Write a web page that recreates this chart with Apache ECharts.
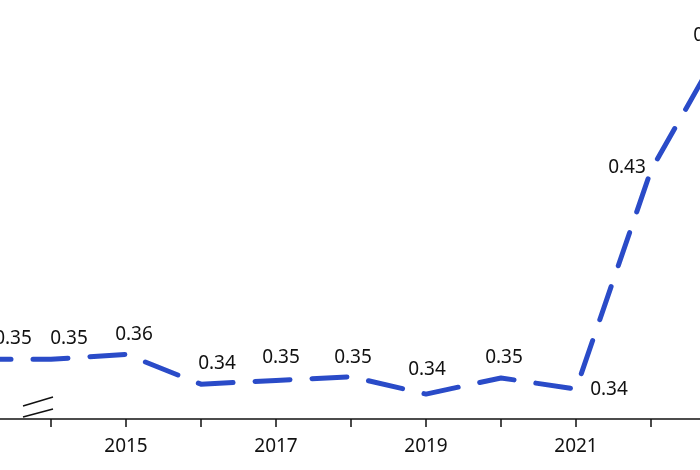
<!DOCTYPE html>
<html>
<head>
<meta charset="utf-8">
<script src="https://cdn.jsdelivr.net/npm/echarts@6/dist/echarts.min.js"></script>
<style>
html,body{margin:0;padding:0;background:#fff;}
#chart{width:700px;height:470px;}
</style>
</head>
<body>
<div id="chart"></div>
<script>
// Data
const years = ['2010','2014','2015','2016','2017','2018','2019','2020','2021','2022','2023'];
const values = [0.354, 0.354, 0.356, 0.344, 0.3455, 0.347, 0.340, 0.3465, 0.342, 0.430, 0.483];
// label placement (style only)
const labelOffsets = [[37,-21],[18,-21],[8,-20],[16,-21],[5,-23],[2,-19],[1,-25],[3,-20],[33,0],[-24,-3],[-14,-3]];

const FONT = 'Noto Sans';
const chart = echarts.init(document.getElementById('chart'), null, {renderer:'canvas'});
const lineColor = '#2a4bc8';

const seriesData = values.map((v,i)=>({
  value: v,
  label: {offset: labelOffsets[i]}
}));

chart.setOption({
  animation: false,
  backgroundColor: '#fff',
  grid: {left: -24, right: -26, top: -4, bottom: 51, containLabel: false, outerBoundsMode: 'none'},
  xAxis: {
    type: 'category',
    data: years,
    boundaryGap: false,
    axisLine: {show: true, lineStyle: {color: '#111', width: 1.5}},
    axisTick: {show: true, length: 8, lineStyle: {color: '#111', width: 1.5}, alignWithLabel: true, interval: 0},
    axisLabel: {interval: 1, margin: 18, color: '#111', fontFamily: FONT, fontSize: 19},
    splitLine: {show: false}
  },
  yAxis: {
    type: 'value',
    min: 0.33,
    max: 0.50,
    show: false
  },
  series: [{
    type: 'line',
    data: seriesData,
    symbol: 'circle',
    symbolSize: 1,
    showSymbol: true,
    itemStyle: {color: 'rgba(0,0,0,0)', borderWidth: 0},
    lineStyle: {color: lineColor, width: 5, type: [35, 22], cap: 'round', join: 'round'},
    label: {
      show: true,
      position: 'inside',
      color: '#111',
      fontFamily: FONT,
      fontSize: 19,
      formatter: p => p.value.toFixed(2)
    },
    emphasis: {disabled: true}
  }]
});

// axis-break marks, positioned from the axis scales
const x1 = chart.convertToPixel({xAxisIndex: 0}, years[1]);
const ay = chart.convertToPixel({yAxisIndex: 0}, 0.33);
chart.setOption({
  graphic: [
    {type: 'line', shape: {x1: x1 - 28, y1: ay - 13, x2: x1 + 2, y2: ay - 22}, style: {stroke: '#111', lineWidth: 1.5}},
    {type: 'line', shape: {x1: x1 - 28, y1: ay - 2, x2: x1 + 2, y2: ay - 10}, style: {stroke: '#111', lineWidth: 1.5}}
  ]
});
</script>
</body>
</html>
